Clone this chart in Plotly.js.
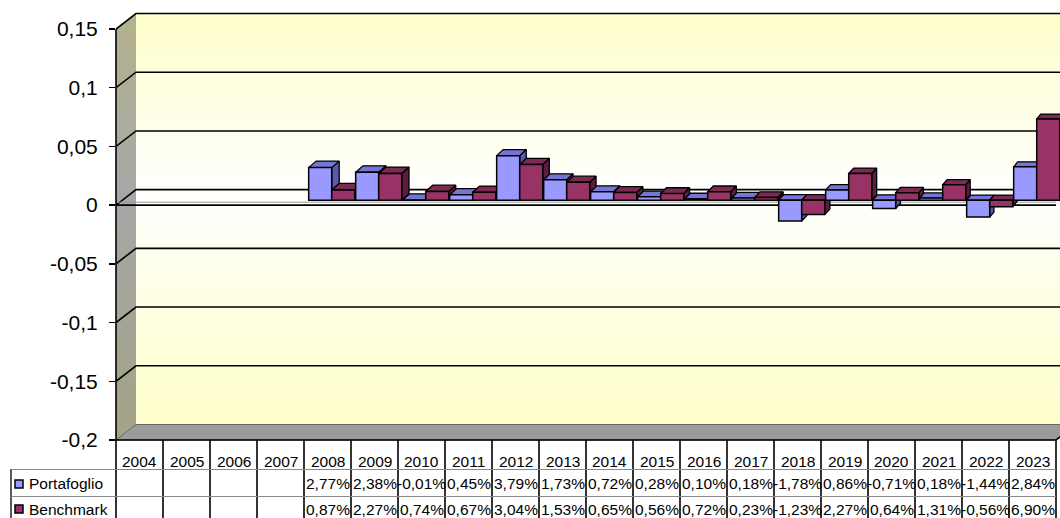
<!DOCTYPE html>
<html><head><meta charset="utf-8">
<script src="https://cdn.plot.ly/plotly-3.0.1.min.js"></script>
<style>html,body{margin:0;padding:0;background:#fff}#chart{width:1060px;height:518px}</style>
</head><body><div id="chart"></div>
<script>
// ---------- data ----------
const years = ['2004','2005','2006','2007','2008','2009','2010','2011','2012','2013','2014','2015','2016','2017','2018','2019','2020','2021','2022','2023'];
const portafoglio = [null,null,null,null,0.0277,0.0238,-0.0001,0.0045,0.0379,0.0173,0.0072,0.0028,0.0010,0.0018,-0.0178,0.0086,-0.0071,0.0018,-0.0144,0.0284];
const benchmark   = [null,null,null,null,0.0087,0.0227,0.0074,0.0067,0.0304,0.0153,0.0065,0.0056,0.0072,0.0023,-0.0123,0.0227,0.0064,0.0131,-0.0056,0.0690];
const seriesNames = ['Portafoglio','Benchmark'];
const yTickVals = [-0.2,-0.15,-0.1,-0.05,0,0.05,0.1,0.15];
const yTickText = ['-0,2','-0,15','-0,1','-0,05','0','0,05','0,1','0,15'];

// ---------- geometry / style ----------
const FONT = 'Liberation Sans, Arial, sans-serif';
const PL = 116, PT = 10, PB = 443, PR = 1060;
const pxPerCat = 47, pxPerUnit = 411/0.35;
const xr = [-0.5, -0.5 + (PR-PL)/pxPerCat];
const yr = [-0.2 - (PB-440)/pxPerUnit, -0.2 + (440-PT)/pxPerUnit];
const sx = 4.2/pxPerCat, sy = 5/pxPerUnit;            // bar row offset inside the box
const xrB = [xr[0]-sx, xr[1]-sx], yrB = [yr[0]-sy, yr[1]-sy];
const wdx = 20/pxPerCat, wdy = 15.5/pxPerUnit;         // wall depth
const ymin = yTickVals[0], ymax = yTickVals[yTickVals.length-1];
const nCat = years.length;
const xi = years.map((_,i)=>i);
const colors = {front:['#9999FF','#993366'], top:['#7575D3','#7B2A54'], side:['#5B5BAE','#5C1E3E']};
const half = 0.245;
const paperY = py => (PB - py)/(PB - PT);
const paperX = px => (px - PL)/(PR - PL);
const fmt = v => (v*100).toFixed(2).replace('.',',') + '%';

const traces = [];
// side wall
traces.push({type:'scatter', mode:'lines', xaxis:'x', yaxis:'y', hoverinfo:'skip',
  x:[-0.5,-0.5+wdx,-0.5+wdx,-0.5,-0.5], y:[ymin,ymin+wdy,ymax+wdy,ymax,ymin],
  fill:'toself', line:{width:0,color:'rgba(0,0,0,0)'},
  fillgradient:{type:'vertical', colorscale:[[0,'#A3A386'],[0.57,'#A7A7A7'],[1,'#B3B28F']]}});
// back wall
traces.push({type:'scatter', mode:'lines', xaxis:'x', yaxis:'y', hoverinfo:'skip',
  x:[-0.5+wdx,xr[1]+1,xr[1]+1,-0.5+wdx,-0.5+wdx], y:[ymin+wdy,ymin+wdy,ymax+wdy,ymax+wdy,ymin+wdy],
  fill:'toself', line:{width:0,color:'rgba(0,0,0,0)'},
  fillgradient:{type:'vertical', colorscale:[[0,'#FFFFCA'],[0.57,'#FFFFFF'],[1,'#FFFFCA']]}});
// floor
traces.push({type:'scatter', mode:'lines', xaxis:'x', yaxis:'y', hoverinfo:'skip',
  x:[-0.5,nCat-0.5,nCat-0.5+wdx,-0.5+wdx,-0.5], y:[ymin,ymin,ymin+wdy,ymin+wdy,ymin],
  fill:'toself', fillcolor:'#9B9B9B', line:{width:1,color:'#666'}});
// gridlines (side wall diagonal + back wall horizontal)
{
  const gx=[], gy=[];
  yTickVals.slice(1).forEach(v=>{
    gx.push(-0.5,-0.5+wdx,xr[1]+1,null); gy.push(v,v+wdy,v+wdy,null);
  });
  traces.push({type:'scatter', mode:'lines', xaxis:'x', yaxis:'y', hoverinfo:'skip',
    x:gx, y:gy, line:{color:'#000',width:1.6}});
}
// front zero line (category plane edge)
traces.push({type:'scatter', mode:'lines', xaxis:'x', yaxis:'y', hoverinfo:'skip',
  x:[-0.5,nCat-0.5], y:[0.0025,0.0025], line:{color:'#9a9a9a',width:1}});
traces.push({type:'scatter', mode:'lines', xaxis:'x', yaxis:'y', hoverinfo:'skip',
  x:[-0.5,nCat-0.5], y:[0,0], line:{color:'#000',width:1.6}});
// floor front edge
traces.push({type:'scatter', mode:'lines', xaxis:'x', yaxis:'y', hoverinfo:'skip',
  x:[-0.5,nCat-0.5,nCat-0.5+wdx], y:[ymin,ymin,ymin+wdy], line:{color:'#000',width:1.6}});

// 3D faces of the columns (drawn below front faces)
const seriesVals = [portafoglio, benchmark];
const depth = i => ({dx:(7.5 - (i-4)*3.5/15)/pxPerCat, dy:(6.5 - (i-4)*1.5/15)/pxPerUnit});
['side','top'].forEach(face=>{
  seriesVals.forEach((vals,s)=>{
    const fx=[], fy=[];
    vals.forEach((v,i)=>{
      if (v===null) return;
      const c = i + (s===0 ? -half : half);
      const {dx,dy} = depth(i);
      const top = Math.max(v,0), bot = Math.min(v,0);
      if (face==='top'){
        fx.push(c-half,c+half,c+half+dx,c-half+dx,c-half,null);
        fy.push(top,top,top+dy,top+dy,top,null);
      } else {
        fx.push(c+half,c+half+dx,c+half+dx,c+half,c+half,null);
        fy.push(top,top+dy,bot+dy,bot,top,null);
      }
    });
    traces.push({type:'scatter', mode:'lines', xaxis:'x2', yaxis:'y2', hoverinfo:'skip',
      x:fx, y:fy, fill:'toself', fillcolor:colors[face][s], line:{color:'#000',width:1.3}});
  });
});
// front faces: real bars
seriesVals.forEach((vals,s)=>{
  traces.push({type:'bar', name:seriesNames[s], xaxis:'x3', yaxis:'y3', x:xi, y:vals,
    marker:{color:colors.front[s], line:{color:'#000',width:1.5}}});
});

// ---------- data table ----------
const shapes = [], annotations = [];
const hline = (x0,x1,py,color,w)=>shapes.push({type:'line',xref:'paper',yref:'paper',x0:paperX(x0),x1:paperX(x1),y0:paperY(py),y1:paperY(py),line:{color,width:w}});
const vline = (px,py0,py1,color,w)=>shapes.push({type:'line',xref:'paper',yref:'paper',x0:paperX(px),x1:paperX(px),y0:paperY(py0),y1:paperY(py1),line:{color,width:w}});
// front value axis line
vline(PL, 29, 441, '#000', 1.6);
for (let k=0;k<=nCat;k++) vline(PL + k*pxPerCat, 440, 518, '#000', 1.6);
vline(11, 469, 518, '#000', 1.3);
hline(11, PL + nCat*pxPerCat, 469.5, '#8a8a8a', 1);
hline(11, PL + nCat*pxPerCat, 496.5, '#8a8a8a', 1);

const TFS = 15.5;
years.forEach((yr_,i)=>annotations.push({xref:'x',yref:'paper',x:i,y:paperY(461.5),text:yr_,showarrow:false,
  xanchor:'center',yanchor:'middle',font:{family:FONT,size:TFS,color:'#000'}}));
const rowY = [484, 509];
seriesVals.forEach((vals,s)=>{
  vals.forEach((v,i)=>{
    if (v===null) return;
    annotations.push({xref:'x',yref:'paper',x:i,y:paperY(rowY[s]),text:fmt(v),showarrow:false,
      xanchor:'center',yanchor:'middle',font:{family:FONT,size:TFS,color:'#000'}});
  });
  annotations.push({xref:'paper',yref:'paper',x:paperX(27),y:paperY(rowY[s]),text:seriesNames[s],showarrow:false,
    xanchor:'left',yanchor:'middle',font:{family:FONT,size:TFS,color:'#000'}});
  shapes.push({type:'rect',xref:'paper',yref:'paper',x0:paperX(15),x1:paperX(23),
    y0:paperY(rowY[s]-4),y1:paperY(rowY[s]+4),fillcolor:colors.front[s],line:{color:'#000',width:1.5}});
});

const hidden = {visible:false, fixedrange:true};
const layout = {
  width:1060, height:518,
  margin:{l:PL, r:1060-PR, t:PT, b:518-PB, pad:0},
  paper_bgcolor:'#fff', plot_bgcolor:'rgba(0,0,0,0)',
  showlegend:false, hovermode:false,
  barmode:'group', bargap:0.02, bargroupgap:0,
  xaxis:Object.assign({range:xr}, hidden),
  yaxis:{range:yr, tickvals:yTickVals, ticktext:yTickText, ticks:'outside', ticklen:6, tickwidth:1.3,
    tickcolor:'#000', showgrid:false, zeroline:false, showline:false, fixedrange:true,
    ticklabelstandoff:7, tickfont:{family:FONT,size:21,color:'#000'}},
  xaxis2:Object.assign({range:xrB, overlaying:'x'}, hidden),
  yaxis2:Object.assign({range:yrB, overlaying:'y'}, hidden),
  xaxis3:Object.assign({range:xrB, overlaying:'x'}, hidden),
  yaxis3:Object.assign({range:yrB, overlaying:'y'}, hidden),
  shapes, annotations
};
Plotly.newPlot('chart', traces, layout, {displayModeBar:false, staticPlot:true});
</script>
</body></html>
